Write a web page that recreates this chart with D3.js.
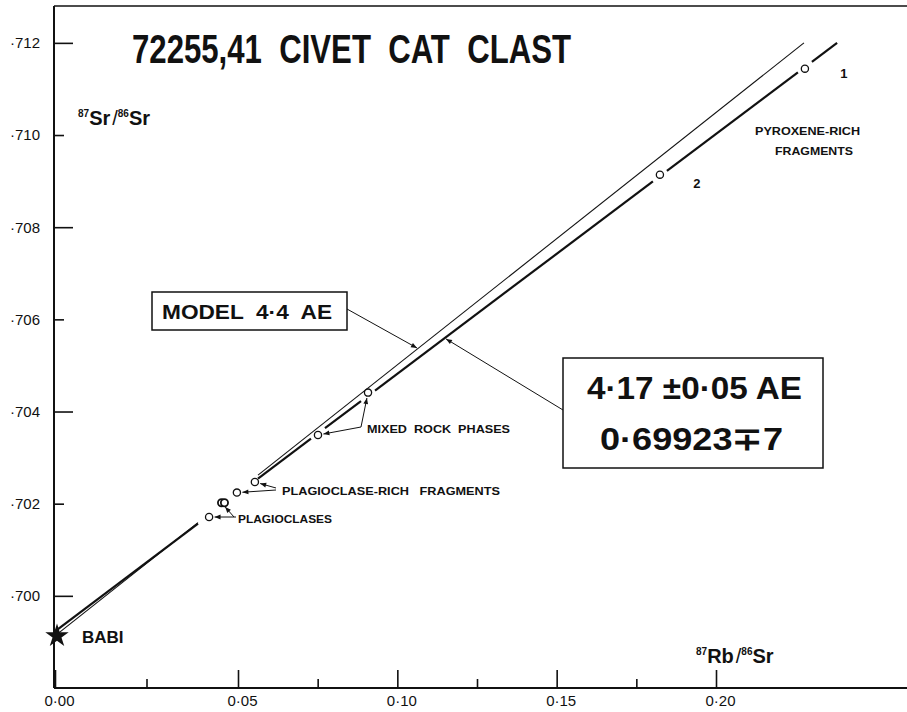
<!DOCTYPE html>
<html>
<head>
<meta charset="utf-8">
<script src="https://cdn.jsdelivr.net/npm/d3@7/dist/d3.min.js"></script>
<style>
  html, body { margin: 0; padding: 0; background: #fff; }
  svg { display: block; }
  text { font-family: "Liberation Sans", Arial, sans-serif; fill: #111; }
</style>
</head>
<body>
<svg id="chart" width="907" height="712"></svg>
<script>
// 72255,41 Civet Cat clast: 87Rb/86Sr vs 87Sr/86Sr of separated fractions
const sampleIds = ["1", "2", "mixed-a", "mixed-b", "plagrich-a", "plagrich-b", "plag-a", "plag-b", "plag-c"];
const rbSr = [0.2279, 0.1824, 0.0908, 0.0751, 0.0553, 0.0497, 0.0455, 0.0463, 0.0421];
const srSr = [0.71144, 0.70914, 0.70441, 0.70349, 0.70247, 0.70224, 0.70202, 0.70202, 0.70171];

// basaltic achondrite best initial
const babiRb = [0];
const babiSr = [0.69913];

// fitted isochron (4.17 AE, initial 0.69923) and the 4.4 AE model line from BABI
const isochronRb = [0, 0.2380];
const isochronSr = [0.69923, 0.712];
const modelRb = [0, 0.2276];
const modelSr = [0.69913, 0.712];

const xMajorTicks = [0, 0.05, 0.10, 0.15, 0.20];
const xMinorTicks = [0.025, 0.075, 0.125, 0.175];
const yMajorTicks = [0.700, 0.704, 0.708, 0.712];
const yMinorTicks = [0.702, 0.706, 0.710];

const W = 907, H = 712;
const svg = d3.select("#chart");
svg.append("rect").attr("width", W).attr("height", H).attr("fill", "#fff");

// hand-drafted abscissa: 0.00-0.05 is drawn a little wider than the rest
const x = d3.scaleLinear().domain([0, 0.05, 0.20]).range([55, 238, 716]);
const y = d3.scaleLinear().domain([0.698, 0.7128]).range([688, 6]);

const ink = "#111";
const defs = svg.append("defs");
defs.append("marker")
  .attr("id", "head")
  .attr("viewBox", "0 0 10 10")
  .attr("refX", 10).attr("refY", 5)
  .attr("markerWidth", 7).attr("markerHeight", 6)
  .attr("markerUnits", "userSpaceOnUse")
  .attr("orient", "auto")
  .append("path").attr("d", "M0,1L10,5L0,9Z").attr("fill", ink);

// frame: left axis, top rule, bottom axis
const x0 = x(0) - 1;
const frame = svg.append("g").attr("stroke", ink).attr("fill", "none");
frame.append("line").attr("x1", x0).attr("x2", x0).attr("y1", y(0.7128)).attr("y2", y(0.698)).attr("stroke-width", 2);
frame.append("line").attr("x1", x0).attr("x2", W).attr("y1", y(0.7128)).attr("y2", y(0.7128)).attr("stroke-width", 1.6);
frame.append("line").attr("x1", x0).attr("x2", W).attr("y1", y(0.698)).attr("y2", y(0.698)).attr("stroke-width", 2);

// axes with inward ticks
const fmtX = d => d3.format(".2f")(d).replace(".", "\u00B7");
const fmtY = d => "\u00B7" + d3.format(".3f")(d).slice(2);

function styleAxis(g, fontSize) {
  g.select(".domain").remove();
  g.selectAll(".tick line").attr("stroke", ink).attr("stroke-width", 1.6);
  g.selectAll(".tick text").attr("font-size", fontSize).attr("fill", ink)
    .attr("font-family", "\"Liberation Sans\", Arial, sans-serif");
}

svg.append("g").attr("transform", `translate(0,${y(0.698)})`)
  .call(d3.axisBottom(x).tickValues(xMajorTicks).tickSize(-18).tickPadding(7).tickFormat(fmtX))
  .call(g => styleAxis(g, 15))
  .call(g => g.selectAll(".tick text").attr("dx", 4));
svg.append("g").attr("transform", `translate(0,${y(0.698)})`)
  .call(d3.axisBottom(x).tickValues(xMinorTicks).tickSize(-9).tickFormat(""))
  .call(g => styleAxis(g, 15));

svg.append("g").attr("transform", `translate(${x0},0)`)
  .call(d3.axisLeft(y).tickValues(yMajorTicks).tickSize(-19).tickPadding(14).tickFormat(fmtY))
  .call(g => styleAxis(g, 15));
svg.append("g").attr("transform", `translate(${x0},0)`)
  .call(d3.axisLeft(y).tickValues(yMinorTicks).tickSize(-10).tickPadding(14).tickFormat(fmtY))
  .call(g => styleAxis(g, 15));

// axis titles
function isotopeTitle(tx, ty, num, den) {
  const t = svg.append("text").attr("x", tx).attr("y", ty)
    .attr("font-size", 20).attr("font-weight", "bold");
  t.append("tspan").attr("font-size", 10).attr("dy", -8).text(num[0]);
  t.append("tspan").attr("dy", 8).text(num[1]);
  t.append("tspan").attr("font-weight", "normal").attr("dx", 2).text("/");
  t.append("tspan").attr("font-size", 10).attr("dy", -8).text(den[0]);
  t.append("tspan").attr("dy", 8).text(den[1]);
}
isotopeTitle(78, 125, ["87", "Sr"], ["86", "Sr"]);
isotopeTitle(696, 663, ["87", "Rb"], ["86", "Sr"]);

// title
svg.append("text").attr("x", 132).attr("y", 63)
  .attr("font-size", 41).attr("font-weight", "bold")
  .attr("textLength", 439).attr("lengthAdjust", "spacingAndGlyphs")
  .style("white-space", "pre")
  .text("72255,41  CIVET  CAT  CLAST");

// lines: drawn as pixel segments between the two end values, with breaks
function segmentsOf(rbArr, srArr, cuts) {
  const ax = x(rbArr[0]), ay = y(srArr[0]);
  const bx = x(rbArr[1]), by = y(srArr[1]);
  const at = px => ay + (by - ay) * (px - ax) / (bx - ax);
  const sorted = cuts.slice().sort((a, b) => a[0] - b[0]);
  const segs = [];
  let start = ax;
  sorted.forEach(([c0, c1]) => {
    if (c0 > start) segs.push([start, c0]);
    start = Math.max(start, c1);
  });
  if (start < bx) segs.push([start, bx]);
  return segs.map(([p0, p1]) => [[p0, at(p0)], [p1, at(p1)]]);
}

const plagGap = [198, 258];
const circleGaps = rbSr.map(v => x(v)).filter(px => px > plagGap[1]).map(px => [px - 7, px + 7]);

const lineG = svg.append("g").attr("fill", "none").attr("stroke", ink).attr("stroke-linecap", "butt");
lineG.selectAll("line.model")
  .data(segmentsOf(modelRb, modelSr, [plagGap]))
  .join("line").attr("class", "model")
  .attr("x1", d => d[0][0]).attr("y1", d => d[0][1])
  .attr("x2", d => d[1][0]).attr("y2", d => d[1][1])
  .attr("stroke-width", 1.1);
lineG.selectAll("line.iso")
  .data(segmentsOf(isochronRb, isochronSr, [plagGap, ...circleGaps]))
  .join("line").attr("class", "iso")
  .attr("x1", d => d[0][0]).attr("y1", d => d[0][1])
  .attr("x2", d => d[1][0]).attr("y2", d => d[1][1])
  .attr("stroke-width", 2.2);

// fractions
svg.append("g").selectAll("circle")
  .data(sampleIds.map((id, i) => ({ id, rb: rbSr[i], sr: srSr[i] })))
  .join("circle")
  .attr("cx", d => x(d.rb)).attr("cy", d => y(d.sr))
  .attr("r", 3.6)
  .attr("fill", "#fff").attr("stroke", ink)
  .attr("stroke-width", d => d.id.startsWith("plag-") && d.id !== "plag-c" ? 1.8 : 1.3);

// BABI star
svg.append("path")
  .attr("d", d3.symbol(d3.symbolStar, 170)())
  .attr("transform", `translate(${x(babiRb[0]) + 2},${y(babiSr[0])})`)
  .attr("fill", ink);
svg.append("text").attr("x", 82).attr("y", 643).attr("font-size", 17)
  .attr("font-weight", "bold").text("BABI");

// fraction numbers
const pIdx = id => sampleIds.indexOf(id);
[["1", 39, 9], ["2", 37, 13]].forEach(([id, dx, dy]) => {
  const i = pIdx(id);
  svg.append("text").attr("x", x(rbSr[i]) + dx).attr("y", y(srSr[i]) + dy)
    .attr("font-size", 13).attr("font-weight", "bold").attr("text-anchor", "middle").text(id);
});

// group labels
const groupLabels = [
  { text: "PYROXENE-RICH", x: 755, y: 135, len: 105 },
  { text: "FRAGMENTS", x: 775, y: 155, len: 78 },
  { text: "MIXED  ROCK  PHASES", x: 367, y: 433, len: 143 },
  { text: "PLAGIOCLASE-RICH   FRAGMENTS", x: 282, y: 495, len: 218 },
  { text: "PLAGIOCLASES", x: 238, y: 523, len: 94 }
];
svg.append("g").selectAll("text").data(groupLabels).join("text")
  .attr("x", d => d.x).attr("y", d => d.y)
  .attr("font-size", 11).attr("font-weight", "bold")
  .attr("textLength", d => d.len).attr("lengthAdjust", "spacingAndGlyphs")
  .style("white-space", "pre")
  .text(d => d.text);

// pointer arrows from labels to fractions
const pointers = [
  { from: [236, 517], id: "plag-c" },
  { from: [234, 517], id: "plag-a" },
  { from: [276, 490], id: "plagrich-b" },
  { from: [276, 488], id: "plagrich-a" },
  { from: [361, 427], id: "mixed-a" },
  { from: [361, 427], id: "mixed-b" }
];
const arrowG = svg.append("g").attr("stroke", ink).attr("stroke-width", 1).attr("fill", "none");
pointers.forEach(p => {
  const i = pIdx(p.id);
  const cx = x(rbSr[i]), cy = y(srSr[i]);
  const dx = p.from[0] - cx, dy = p.from[1] - cy;
  const len = Math.hypot(dx, dy);
  const off = 5.5;
  arrowG.append("line")
    .attr("x1", p.from[0]).attr("y1", p.from[1])
    .attr("x2", cx + dx / len * off).attr("y2", cy + dy / len * off)
    .attr("marker-end", "url(#head)");
});

// boxes with callouts to the two lines
function pointOn(rbArr, srArr, px) {
  const ax = x(rbArr[0]), ay = y(srArr[0]);
  const bx = x(rbArr[1]), by = y(srArr[1]);
  return [px, ay + (by - ay) * (px - ax) / (bx - ax)];
}

const modelBox = { x: 152, y: 292, w: 195, h: 38 };
svg.append("rect").attr("x", modelBox.x).attr("y", modelBox.y)
  .attr("width", modelBox.w).attr("height", modelBox.h)
  .attr("fill", "#fff").attr("stroke", ink).attr("stroke-width", 1.5);
svg.append("text").attr("x", 162).attr("y", 319).attr("font-size", 21)
  .attr("font-weight", "bold")
  .attr("textLength", 170).attr("lengthAdjust", "spacingAndGlyphs")
  .style("white-space", "pre").text("MODEL  4\u00B74  AE");
const modelTip = pointOn(modelRb, modelSr, 418);
arrowG.append("line").attr("x1", modelBox.x + modelBox.w).attr("y1", 309)
  .attr("x2", modelTip[0] - 1).attr("y2", modelTip[1] - 0.5)
  .attr("marker-end", "url(#head)");

const isoBox = { x: 563, y: 358, w: 260, h: 110 };
svg.append("rect").attr("x", isoBox.x).attr("y", isoBox.y)
  .attr("width", isoBox.w).attr("height", isoBox.h)
  .attr("fill", "#fff").attr("stroke", ink).attr("stroke-width", 1.5);
svg.append("text").attr("x", 587).attr("y", 399).attr("font-size", 32)
  .attr("font-weight", "bold")
  .attr("textLength", 215).attr("lengthAdjust", "spacingAndGlyphs")
  .text("4\u00B717 \u00B10\u00B705 AE");
svg.append("text").attr("x", 600).attr("y", 450).attr("font-size", 32)
  .attr("font-weight", "bold")
  .attr("textLength", 183).attr("lengthAdjust", "spacingAndGlyphs")
  .text("0\u00B769923\u22137");
const isoTip = pointOn(isochronRb, isochronSr, 445);
arrowG.append("line").attr("x1", isoBox.x).attr("y1", 410)
  .attr("x2", isoTip[0] + 1).attr("y2", isoTip[1] + 1)
  .attr("marker-end", "url(#head)");
</script>
</body>
</html>
